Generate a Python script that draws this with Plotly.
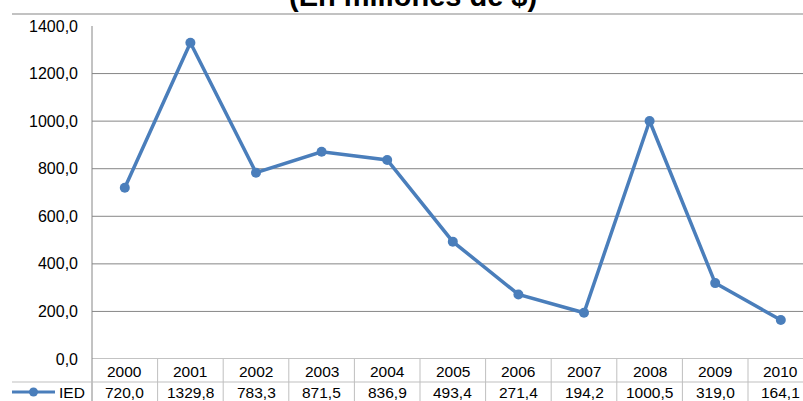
import plotly.graph_objects as go

# Inversión extranjera directa (millones de $)
years = ["2000", "2001", "2002", "2003", "2004", "2005", "2006", "2007", "2008", "2009", "2010"]
ied = [720.0, 1329.8, 783.3, 871.5, 836.9, 493.4, 271.4, 194.2, 1000.5, 319.0, 164.1]
y_ticks = [0, 200, 400, 600, 800, 1000, 1200, 1400]
series_name = "IED"
title_text = "(En millones de $)"

W, H = 803, 401
L, R, T, B = 92, 0, 26, 42
plot_h = H - T - B
plot_w = W - L - R

LINE_COLOR = "#4A7EBB"
GRID_COLOR = "#868686"
TABLE_COLOR = "#BFBFBF"
FONT = "Liberation Sans, Arial, sans-serif"


def py(pix):
    """Vertical pixel (from top) -> paper coordinate."""
    return (H - B - pix) / plot_h


def px(pix):
    """Horizontal pixel (from left) -> paper coordinate."""
    return (pix - L) / plot_w


def fmt(v):
    return f"{v:.1f}".replace(".", ",")


idx = list(range(len(years)))

fig = go.Figure()
fig.add_trace(go.Scatter(
    x=idx, y=ied, mode="lines+markers", name=series_name,
    line=dict(color=LINE_COLOR, width=3.5),
    marker=dict(color=LINE_COLOR, size=10),
    showlegend=False, cliponaxis=False,
))

shapes = []
# horizontal gridlines (the top value carries a label only)
for v in y_ticks[:-1]:
    shapes.append(dict(type="line", xref="paper", yref="y", x0=0, x1=1, y0=v, y1=v,
                       line=dict(color=GRID_COLOR, width=1), layer="below"))
# value axis line, running down through the data table
shapes.append(dict(type="line", xref="paper", yref="paper", x0=0, x1=0,
                   y0=py(H + 2), y1=1, line=dict(color=GRID_COLOR, width=1), layer="below"))
# rule above the chart
shapes.append(dict(type="line", xref="paper", yref="paper", x0=px(12), x1=1,
                   y0=py(14), y1=py(14), line=dict(color=GRID_COLOR, width=1.2)))
# data table: row separator and column borders
shapes.append(dict(type="line", xref="paper", yref="paper", x0=px(12), x1=1,
                   y0=py(382), y1=py(382), line=dict(color=TABLE_COLOR, width=1)))
for i in idx:
    shapes.append(dict(type="line", xref="x", yref="paper", x0=i + 0.5, x1=i + 0.5,
                       y0=0, y1=py(H + 2), line=dict(color=TABLE_COLOR, width=1)))
# legend key inside the table
shapes.append(dict(type="line", xref="paper", yref="paper", x0=px(12), x1=px(55),
                   y0=py(392), y1=py(392), line=dict(color=LINE_COLOR, width=3)))
shapes.append(dict(type="circle", xref="paper", yref="paper",
                   x0=px(29), x1=px(38), y0=py(396.5), y1=py(387.5),
                   fillcolor=LINE_COLOR, line=dict(color=LINE_COLOR, width=0)))

annotations = [
    dict(text=f"<b>{title_text}</b>", xref="paper", yref="paper",
         x=px(412.5), y=py(14), xanchor="center", yanchor="bottom", showarrow=False,
         font=dict(family=FONT, size=29, color="black")),
    dict(text=series_name, xref="paper", yref="paper", x=px(57), y=py(392),
         xanchor="left", yanchor="middle", showarrow=False,
         font=dict(family=FONT, size=15.5, color="black")),
]
for i, (yr, v) in enumerate(zip(years, ied)):
    annotations.append(dict(text=yr, xref="x", yref="paper", x=i, y=py(371.5),
                            xanchor="center", yanchor="middle", showarrow=False,
                            font=dict(family=FONT, size=15.5, color="black")))
    annotations.append(dict(text=fmt(v), xref="x", yref="paper", x=i, y=py(392),
                            xanchor="center", yanchor="middle", showarrow=False,
                            font=dict(family=FONT, size=15.5, color="black")))

fig.update_layout(
    width=W, height=H,
    margin=dict(l=L, r=R, t=T, b=B, pad=0),
    paper_bgcolor="white", plot_bgcolor="white",
    separators=", ",
    font=dict(family=FONT, size=15.5, color="black"),
    xaxis=dict(range=[-0.5, -0.5 + plot_w / 65.6], visible=False, fixedrange=True),
    yaxis=dict(range=[0, 1400], tickvals=y_ticks, tickformat=".1f",
               showgrid=False, zeroline=False, showline=False, ticks="",
               ticklabelstandoff=13, fixedrange=True,
               tickfont=dict(family=FONT, size=16, color="black")),
    shapes=shapes, annotations=annotations,
)

fig.write_html("out.html")
